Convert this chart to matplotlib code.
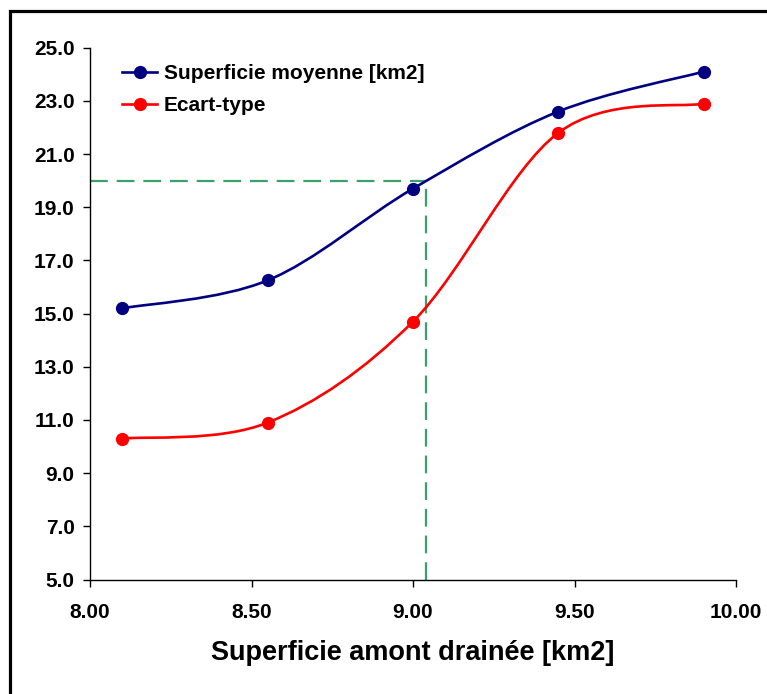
import numpy as np
import matplotlib
matplotlib.use("Agg")
import matplotlib.pyplot as plt
from matplotlib.path import Path
from matplotlib.patches import PathPatch, Rectangle
from matplotlib.lines import Line2D

# ---- data ----
x_vals = [8.10, 8.55, 9.00, 9.45, 9.90]
moyenne = [15.2, 16.25, 19.7, 22.6, 24.1]
ecart = [10.3, 10.9, 14.7, 21.8, 22.9]
series_labels = ["Superficie moyenne [km2]", "Ecart-type"]
ref_x = 9.04
ref_y = 20.0
x_ticks = [8.00, 8.50, 9.00, 9.50, 10.00]
y_ticks = [5.0, 7.0, 9.0, 11.0, 13.0, 15.0, 17.0, 19.0, 21.0, 23.0, 25.0]
x_label = "Superficie amont drainée [km2]"

plt.rcParams['font.family'] = ['Liberation Sans', 'DejaVu Sans']
plt.rcParams['font.weight'] = 'bold'

W, H = 767, 694
fig = plt.figure(figsize=(W / 100, H / 100), dpi=100)
ax = fig.add_axes([90 / W, 1 - 579.5 / H, (736 - 90) / W, (579.5 - 47.7) / H])


def smooth_path(xs, ys):
    pts = np.column_stack([xs, ys]).astype(float)
    n = len(pts)
    verts = [pts[0]]
    codes = [Path.MOVETO]
    for i in range(n - 1):
        p0 = pts[i - 1] if i > 0 else pts[i]
        p1 = pts[i]
        p2 = pts[i + 1]
        p3 = pts[i + 2] if i + 2 < n else pts[i + 1]
        c1 = p1 + (p2 - p0) / 6.0
        c2 = p2 - (p3 - p1) / 6.0
        verts += [c1, c2, p2]
        codes += [Path.CURVE4] * 3
    return Path(verts, codes)


colors = ['#000080', '#FF0000']
for ys, c in zip([moyenne, ecart], colors):
    ax.add_patch(PathPatch(smooth_path(x_vals, ys), fill=False, edgecolor=c, lw=1.9, zorder=3))
    ax.plot(x_vals, ys, 'o', color=c, ms=8.5, zorder=4)

green = '#3C9F6E'
ax.plot([8.0, ref_x], [ref_y, ref_y], color=green, lw=1.6, ls=(0, (8, 4)), zorder=2)
ax.plot([ref_x, ref_x], [5.0, ref_y], color=green, lw=1.6, ls=(0, (8, 4)), zorder=2)

ax.set_xlim(8.0, 10.0)
ax.set_ylim(5.0, 25.0)
ax.set_xticks(x_ticks)
ax.set_xticklabels([f"{v:.2f}" for v in x_ticks])
ax.set_yticks(y_ticks)
ax.set_yticklabels([f"{v:.1f}" for v in y_ticks])
for s in ['top', 'right']:
    ax.spines[s].set_visible(False)
for s in ['left', 'bottom']:
    ax.spines[s].set_linewidth(1.0)
ax.tick_params(direction='out', length=5, width=1, labelsize=15)
ax.tick_params(axis='x', pad=12)
ax.tick_params(axis='y', pad=6)
for lab in ax.get_xticklabels() + ax.get_yticklabels():
    lab.set_fontweight('bold')
ax.set_xlabel(x_label, fontsize=19.5, fontweight='bold', labelpad=13)

handles = [Line2D([], [], color=c, lw=1.9, marker='o', ms=8.5) for c in colors]
leg = ax.legend(handles, series_labels, loc='upper left', bbox_to_anchor=(0.0495, 0.969),
                frameon=False, borderpad=0, borderaxespad=0, handlelength=1.7,
                handletextpad=0.3, labelspacing=0.63, prop={'size': 15, 'weight': 'bold'})

fig.add_artist(Rectangle((9.5 / W, -0.5), 2.0, 0.5 + (1 - 10.5 / H), transform=fig.transFigure,
                         fill=False, edgecolor='black', lw=2.3))

fig.savefig('out.png', dpi=100)
